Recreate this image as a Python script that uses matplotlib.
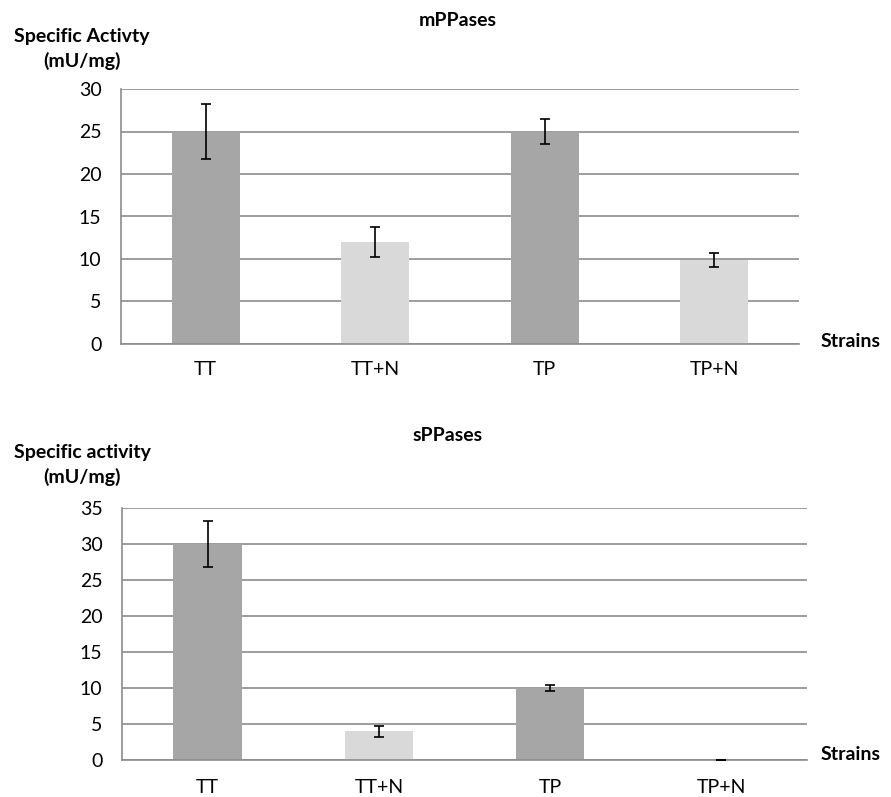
import matplotlib.pyplot as plt
import numpy as np

plt.rcParams['font.family'] = ['Lato', 'DejaVu Sans']

strains = ['TT', 'TT+N', 'TP', 'TP+N']
bar_colors = ['#a6a6a6', '#d9d9d9', '#a6a6a6', '#d9d9d9']

# membrane PPases
m_vals = [25, 12, 25, 9.9]
m_err = [3.2, 1.8, 1.45, 0.85]

# soluble PPases
s_vals = [30, 4, 10, 0]
s_err = [3.15, 0.75, 0.35, 0]

grid_col = '#8c8c8c'


def draw_panel(ax, vals, errs, ymax, title, ylab, title_xy, ylab_xy, strains_xy, xpad):
    x = np.arange(len(strains))
    ax.bar(x, vals, width=0.4, color=bar_colors, zorder=2)
    ax.errorbar(x, vals, yerr=errs, fmt='none', ecolor='black',
                elinewidth=1.2, capsize=3.6, capthick=1.2, zorder=3)
    ax.set_xlim(-0.5, 3.5)
    ax.set_ylim(0, ymax)
    ax.set_yticks(np.arange(0, ymax + 1, 5))
    ax.yaxis.grid(True, color=grid_col, linewidth=1.2, zorder=0)
    ax.set_axisbelow(True)
    ax.set_xticks(x)
    ax.set_xticklabels(strains)
    ax.tick_params(axis='both', length=0, labelsize=14)
    ax.tick_params(axis='x', pad=xpad)
    ax.tick_params(axis='y', pad=14)
    for s in ['top', 'right']:
        ax.spines[s].set_visible(False)
    for s in ['left', 'bottom']:
        ax.spines[s].set_color(grid_col)
        ax.spines[s].set_linewidth(1.2)
    fig.text(title_xy[0] / 891, 1 - title_xy[1] / 797, title,
             ha='center', va='center', fontsize=14, fontweight='bold')
    fig.text(ylab_xy[0] / 891, 1 - ylab_xy[1] / 797, ylab,
             ha='center', va='center', fontsize=14, fontweight='bold',
             linespacing=1.45)
    fig.text(strains_xy[0] / 891, 1 - strains_xy[1] / 797, 'Strains',
             ha='center', va='center', fontsize=14, fontweight='bold')


fig = plt.figure(figsize=(8.91, 7.97), dpi=100)
ax1 = fig.add_axes([121 / 891, 1 - 344 / 797, 678 / 891, 255 / 797])
ax2 = fig.add_axes([122 / 891, 1 - 760 / 797, 685 / 891, 252 / 797])

draw_panel(ax1, m_vals, m_err, 30, 'mPPases', 'Specific Activty\n(mU/mg)',
           (458, 21), (82, 49), (851, 341), 12)
draw_panel(ax2, s_vals, s_err, 35, 'sPPases', 'Specific activity\n(mU/mg)',
           (448, 436), (82, 465), (851, 755), 14)

fig.savefig('out.png', dpi=100)
